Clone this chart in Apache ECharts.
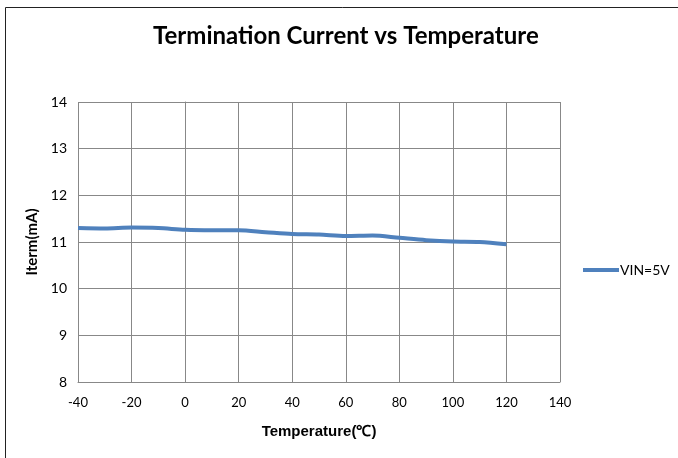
<!DOCTYPE html>
<html>
<head>
<meta charset="utf-8">
<script src="https://cdn.jsdelivr.net/npm/echarts@6/dist/echarts.min.js"></script>
<style>
html,body{margin:0;padding:0;background:#fff;}
#c{width:678px;height:458px;}
</style>
</head>
<body>
<div id="c"></div>
<script>
const temps = [-40, -30, -20, -10, 0, 10, 20, 30, 40, 50, 60, 70, 80, 90, 100, 110, 120];
const iterm = [11.30, 11.29, 11.31, 11.30, 11.26, 11.25, 11.25, 11.21, 11.17, 11.16, 11.13, 11.14, 11.09, 11.04, 11.01, 11.00, 10.95];
const seriesName = 'VIN=5V';

const chart = echarts.init(document.getElementById('c'), null, {renderer: 'canvas'});
const gridColor = '#888888';
chart.setOption({
  animation: false,
  backgroundColor: '#fff',
  graphic: [{
    type: 'rect',
    shape: {x: 5.5, y: 7.5, width: 720, height: 500},
    style: {fill: 'none', stroke: '#222', lineWidth: 1},
    silent: true
  }],
  title: {
    text: 'Termination Current vs Temperature',
    left: 148,
    top: 19,
    textStyle: {fontFamily: 'Lato', fontWeight: 'bold', fontSize: 24, color: '#000'}
  },
  legend: {
    orient: 'vertical',
    left: 578,
    top: 258,
    itemWidth: 36,
    itemHeight: 4,
    itemGap: 4,
    icon: 'rect',
    textStyle: {fontFamily: 'Lato', fontSize: 14, color: '#000', padding: [0,0,0,-4]},
    data: [seriesName]
  },
  grid: {left: 78, top: 102, right: 118, bottom: 76, containLabel: false},
  xAxis: {
    type: 'value',
    min: -40, max: 140, interval: 20,
    name: 'Temperature(℃)',
    nameLocation: 'middle',
    nameGap: 42,
    nameTextStyle: {fontFamily: 'Liberation Sans', fontWeight: 'bold', fontSize: 15, color: '#000'},
    axisLine: {show: true, lineStyle: {color: gridColor, width: 1}},
    axisTick: {show: false},
    axisLabel: {fontFamily: 'Lato', fontSize: 13, color: '#000', margin: 14},
    splitLine: {show: true, lineStyle: {color: gridColor, width: 1}}
  },
  yAxis: {
    type: 'value',
    min: 8, max: 14, interval: 1,
    name: 'Iterm(mA)',
    nameLocation: 'middle',
    nameGap: 33,
    nameTextStyle: {fontFamily: 'Lato', fontWeight: 'bold', fontSize: 15, color: '#000'},
    axisLine: {show: true, lineStyle: {color: gridColor, width: 1}},
    axisTick: {show: false},
    axisLabel: {fontFamily: 'Lato', fontSize: 14, color: '#000', margin: 11},
    splitLine: {show: true, lineStyle: {color: gridColor, width: 1}}
  },
  series: [{
    name: seriesName,
    type: 'line',
    smooth: 0.3,
    symbol: 'none',
    data: temps.map((t, i) => [t, iterm[i]]),
    lineStyle: {color: '#4f81bd', width: 4},
    itemStyle: {color: '#4f81bd'}
  }]
});
</script>
</body>
</html>
